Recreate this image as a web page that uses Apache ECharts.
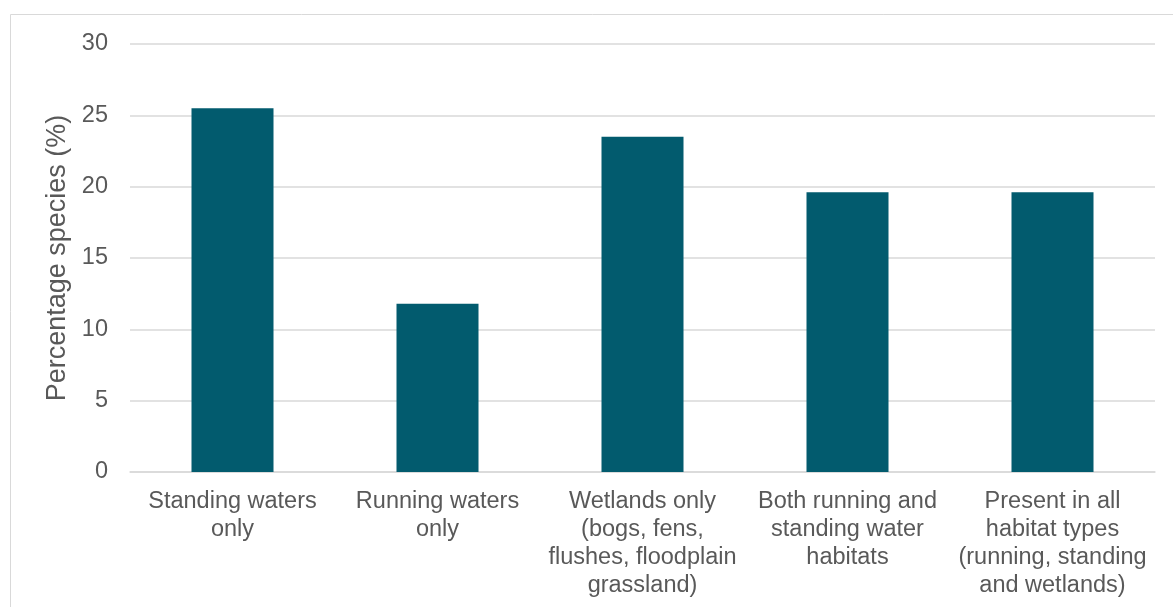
<!DOCTYPE html>
<html>
<head>
<meta charset="utf-8">
<script src="https://cdn.jsdelivr.net/npm/echarts@6/dist/echarts.min.js"></script>
<style>
  html, body { margin: 0; padding: 0; background: #fff; }
  #chart { width: 1173px; height: 607px; }
</style>
</head>
<body>
<div id="chart"></div>
<script>
const categories = [
  'Standing waters\nonly',
  'Running waters\nonly',
  'Wetlands only\n(bogs, fens,\nflushes, floodplain\ngrassland)',
  'Both running and\nstanding water\nhabitats',
  'Present in all\nhabitat types\n(running, standing\nand wetlands)'
];
const values = [25.5, 11.8, 23.5, 19.6, 19.6];
const yTicks = { min: 0, max: 30, interval: 5 };

const FONT = "'Liberation Sans', Arial, sans-serif";
const TEXT = '#595959';

const chart = echarts.init(document.getElementById('chart'));
chart.setOption({
  animation: false,
  textStyle: { fontFamily: FONT },
  graphic: [
    { type: 'rect', shape: { x: 10.5, y: 14.5, width: 1200, height: 700 }, style: { fill: 'none', stroke: '#d9d9d9', lineWidth: 1 }, silent: true }
  ],
  grid: { left: 130, right: 18, top: 44, bottom: 135, containLabel: false },
  xAxis: {
    type: 'category',
    data: categories,
    axisLine: { lineStyle: { color: '#d9d9d9', width: 1.5 } },
    axisTick: { show: false },
    axisLabel: { color: TEXT, fontSize: 23.5, lineHeight: 28, margin: 16, interval: 0, fontFamily: FONT }
  },
  yAxis: {
    type: 'value',
    min: yTicks.min, max: yTicks.max, interval: yTicks.interval,
    name: 'Percentage species (%)',
    nameLocation: 'middle',
    nameGap: 57,
    nameTextStyle: { color: TEXT, fontSize: 27, fontFamily: FONT },
    axisLine: { show: false },
    axisTick: { show: false },
    axisLabel: { color: TEXT, fontSize: 23.5, margin: 22, fontFamily: FONT },
    splitLine: { lineStyle: { color: '#d9d9d9', width: 1.5 } }
  },
  series: [{
    type: 'bar',
    data: values,
    barWidth: '40%',
    itemStyle: { color: '#025b6e' }
  }]
});
</script>
</body>
</html>
